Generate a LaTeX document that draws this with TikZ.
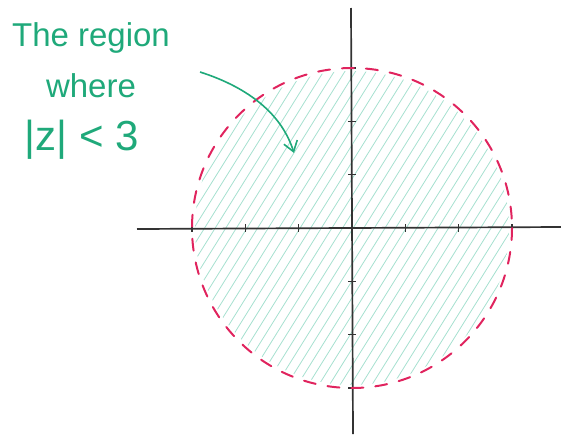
\documentclass[tikz,border=0pt]{standalone}
\usepackage{fontspec}
\setmainfont{Liberation Sans}
\usetikzlibrary{arrows.meta,calc}
\definecolor{pengreen}{HTML}{1FA97A}
\definecolor{hatchgreen}{HTML}{A6E0D0}
\definecolor{penred}{HTML}{E0245E}
\definecolor{axisgray}{HTML}{333333}
\tikzset{
  axisline/.style={draw=axisgray, line width=1.7pt},
  tickmark/.style={draw=axisgray, line width=1.5pt},
  hatchline/.style={draw=hatchgreen, line width=0.8pt},
  circledash/.style={draw=penred, line width=2pt, dash pattern=on 12pt off 12pt, line cap=round},
  label/.style={text=pengreen, font=\fontsize{33}{35}\selectfont, inner sep=0pt, anchor=center},
  pointer/.style={draw=pengreen, line width=1.6pt, -{Straight Barb[length=10pt,width=14pt]}}
}
\begin{document}
\begin{tikzpicture}[x=1pt,y=-1pt]
\useasboundingbox (0,0) rectangle (561,434);
\coordinate (O) at (352,228);
% hatching
\begin{scope}
  \clip (O) circle (157);
  \begin{scope}[shift={(O)}, rotate=58]
    \foreach \i in {-170,-161,...,170} {
      \draw[hatchline] (-175,\i) -- (175,\i);
    }
  \end{scope}
\end{scope}
% axes
\coordinate (xl) at (137,229);
\coordinate (xr) at (561,227);
\coordinate (yt) at (351,8);
\coordinate (yb) at (353,434);
\draw[axisline] (xl) -- (xr);
\draw[axisline] (yt) -- (yb);
\foreach \k in {-3,-2,-1,1,2,3} {
  \draw[tickmark] ($(O)+(\k*53.3,-4)$) -- ($(O)+(\k*53.3,4)$);
  \draw[tickmark] ($(O)+(-4,\k*53.3)$) -- ($(O)+(4,\k*53.3)$);
}
% circle
\draw[circledash] (O) circle (160);
% text
\node[label] (t1) at (91,38) {The region};
\node[label] (t2) at (91,86) {where};
\node[label, font=\fontsize{42}{44}\selectfont] (t3) at (82,140) {|z| < 3};
% arrow
\coordinate (as) at (200,72);
\coordinate (ae) at (294,153);
\draw[pointer] (as) .. controls (250,88) and (282,115) .. (ae);
\end{tikzpicture}
\end{document}
